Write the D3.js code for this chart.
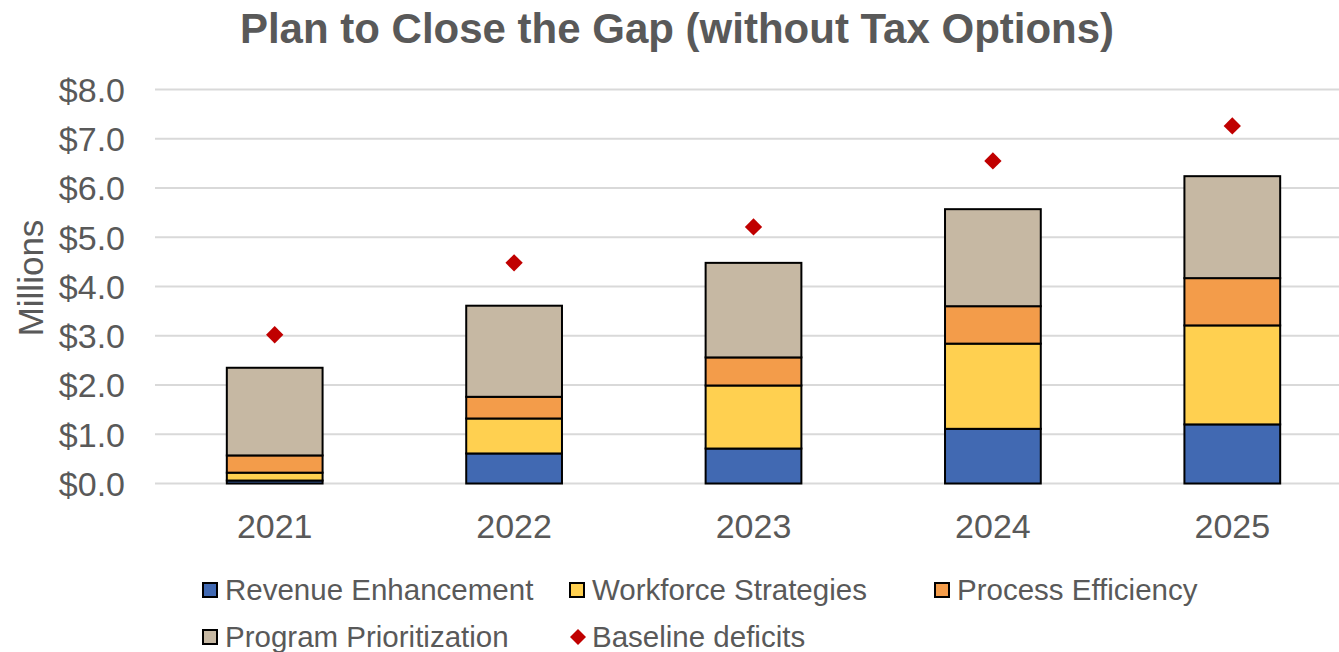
<!DOCTYPE html>
<html><head><meta charset="utf-8">
<script src="https://cdn.jsdelivr.net/npm/d3@7"></script>
<style>body{margin:0;background:#fff;} svg{display:block;font-family:"Liberation Sans",Arial,sans-serif;}</style>
</head><body>
<svg id="chart" width="1339" height="652"></svg>
<script>
const years = ["2021","2022","2023","2024","2025"];
const seriesNames = ["Revenue Enhancement","Workforce Strategies","Process Efficiency","Program Prioritization"];
const revenue   = [0.06, 0.61, 0.71, 1.11, 1.20];
const workforce = [0.16, 0.71, 1.28, 1.73, 2.01];
const process   = [0.35, 0.44, 0.57, 0.76, 0.96];
const program   = [1.78, 1.85, 1.92, 1.97, 2.07];
const baseline  = [3.02, 4.48, 5.21, 6.55, 7.26];
const yTicks = [0,1,2,3,4,5,6,7,8];
const colors = ["#4169B2","#FFD050","#F39C4A","#C6B8A3"];
const textColor = "#595959";

const svg = d3.select("#chart");
const x = d3.scaleBand().domain(years).range([155, 1352]).paddingInner(0.6).paddingOuter(0.3);
const y = d3.scaleLinear().domain([0, 8]).range([483.5, 89.5]);

// gridlines
svg.append("g").selectAll("line").data(yTicks).join("line")
  .attr("x1", 155).attr("x2", 1339)
  .attr("y1", d => y(d)).attr("y2", d => y(d))
  .attr("stroke", "#D9D9D9").attr("stroke-width", 2);

// y labels
const yAxis = d3.axisLeft(y).tickValues(yTicks).tickSize(0).tickPadding(0).tickFormat(d => "$" + d3.format(".1f")(d));
const gy = svg.append("g").attr("transform", "translate(125,0)").call(yAxis);
gy.select(".domain").remove();
gy.selectAll("text").attr("fill", textColor).attr("font-size", 34).attr("font-family", "Liberation Sans, Arial, sans-serif").attr("dy", "0.35em");

// x labels
const xAxis = d3.axisBottom(x).tickSize(0).tickPadding(0);
const gx = svg.append("g").attr("transform", "translate(0,538)").call(xAxis);
gx.select(".domain").remove();
gx.selectAll("text").attr("fill", textColor).attr("font-size", 34).attr("font-family", "Liberation Sans, Arial, sans-serif").attr("y", 0).attr("dy", "0");

// stacked bars
const table = years.map((yr, i) => ({year: yr, r: revenue[i], w: workforce[i], p: process[i], g: program[i]}));
const stack = d3.stack().keys(["r","w","p","g"])(table);
svg.append("g").selectAll("g").data(stack).join("g")
  .attr("fill", (d, i) => colors[i])
  .selectAll("rect").data(d => d).join("rect")
  .attr("x", d => x(d.data.year))
  .attr("width", x.bandwidth())
  .attr("y", d => y(d[1]))
  .attr("height", d => y(d[0]) - y(d[1]))
  .attr("stroke", "#000").attr("stroke-width", 2);

// baseline diamonds
svg.append("g").selectAll("path").data(baseline).join("path")
  .attr("d", d3.symbol().type(d3.symbolSquare).size(150))
  .attr("transform", (d, i) => `translate(${x(years[i]) + x.bandwidth()/2},${y(d)}) rotate(45)`)
  .attr("fill", "#C00000");

// title
svg.append("text").attr("x", 677).attr("y", 43).attr("text-anchor", "middle")
  .attr("font-size", 42).attr("font-weight", "bold").attr("fill", textColor)
  .text("Plan to Close the Gap (without Tax Options)");

// y title
svg.append("text").attr("transform", "translate(43,278) rotate(-90)").attr("text-anchor", "middle")
  .attr("font-size", 35).attr("fill", textColor).text("Millions");

// legend
const legendItems = [
  {name: seriesNames[0], color: colors[0], type: "rect", x: 203, y: 590},
  {name: seriesNames[1], color: colors[1], type: "rect", x: 570, y: 590},
  {name: seriesNames[2], color: colors[2], type: "rect", x: 935, y: 590},
  {name: seriesNames[3], color: colors[3], type: "rect", x: 203, y: 637},
  {name: "Baseline deficits", color: "#C00000", type: "diamond", x: 570, y: 637}
];
const lg = svg.append("g").selectAll("g").data(legendItems).join("g")
  .attr("transform", d => `translate(${d.x},${d.y})`);
lg.filter(d => d.type === "rect").append("rect")
  .attr("x", 0).attr("y", -7).attr("width", 14).attr("height", 14)
  .attr("fill", d => d.color).attr("stroke", "#000").attr("stroke-width", 2);
lg.filter(d => d.type === "diamond").append("path")
  .attr("d", d3.symbol().type(d3.symbolSquare).size(128))
  .attr("transform", "translate(8,0) rotate(45)").attr("fill", d => d.color);
lg.append("text").attr("x", 22).attr("y", 0).attr("dy", "0.35em")
  .attr("font-size", 29.5).attr("fill", textColor).text(d => d.name);
</script>
</body></html>
